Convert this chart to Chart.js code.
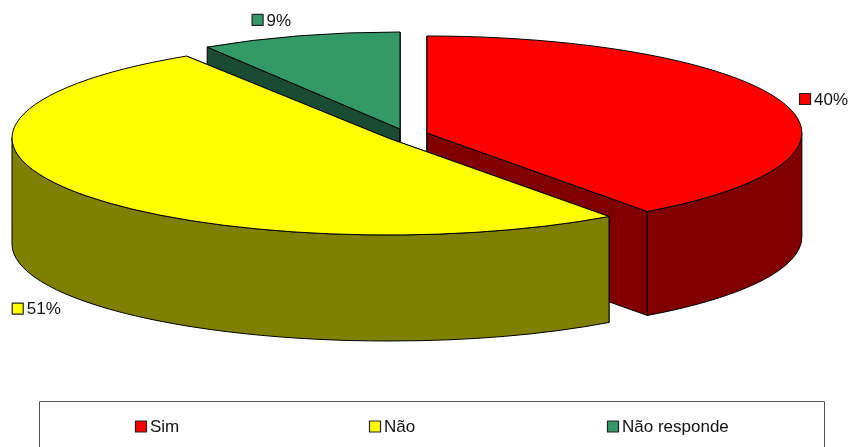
<!DOCTYPE html>
<html>
<head>
<meta charset="utf-8">
<script src="https://cdn.jsdelivr.net/npm/chart.js@4"></script>
<style>
  html, body { margin: 0; padding: 0; background: #fff; overflow: hidden; }
  canvas { display: block; }
</style>
</head>
<body>
<canvas id="chart" width="852" height="447"></canvas>
<script>
const categories = ['Sim', 'Não', 'Não responde'];
const percentages = [40, 51, 9];
const topColors = ['#ff0000', '#ffff00', '#339966'];
const sideColors = ['#800000', '#808000', '#1a4c33'];

// look of the fake 3D pie
const flatten = 0.258;
const depths = [104, 106, 104];
const explodeX = [39, 0, 12];
const explodeY = [-5, 0, -9];
const widthScale = [0.997, 1, 0.957];
const paintOrder = [2, 0, 1]; // back to front

const labelFont = '17px "Liberation Sans", Arial, sans-serif';
const labelNudge = [[15.5, -4], [-65.3, 116], [-48, -16]];
const legendKeyX = [135, 369, 607];

function geometry(arc, i) {
  const rx = arc.outerRadius * widthScale[i];
  return {
    cx: arc.x + explodeX[i],
    cy: arc.y + explodeY[i],
    rx: rx,
    ry: arc.outerRadius * flatten,
    a0: arc.startAngle,
    a1: arc.endAngle
  };
}

function drawKey(ctx, x, midY, color) {
  ctx.fillStyle = color;
  ctx.fillRect(x + 0.5, midY - 5.5, 11, 11);
  ctx.strokeStyle = '#222';
  ctx.lineWidth = 1.2;
  ctx.strokeRect(x + 0.5, midY - 5.5, 11, 11);
}

function drawSlice(ctx, arc, i) {
  const g = geometry(arc, i);
  const depth = depths[i];
  ctx.strokeStyle = '#000';
  ctx.lineWidth = 1;
  ctx.lineJoin = 'round';

  // the two cut faces
  ctx.fillStyle = sideColors[i];
  [g.a0, g.a1].forEach(function (a) {
    const px = g.cx + g.rx * Math.cos(a);
    const py = g.cy + g.ry * Math.sin(a);
    ctx.beginPath();
    ctx.moveTo(g.cx, g.cy);
    ctx.lineTo(px, py);
    ctx.lineTo(px, py + depth);
    ctx.lineTo(g.cx, g.cy + depth);
    ctx.closePath();
    ctx.fill();
    ctx.stroke();
  });

  // outer wall, only the part facing the viewer
  const from = Math.max(g.a0, 0);
  const to = Math.min(g.a1, Math.PI);
  if (to > from) {
    ctx.beginPath();
    ctx.ellipse(g.cx, g.cy, g.rx, g.ry, 0, from, to);
    ctx.ellipse(g.cx, g.cy + depth, g.rx, g.ry, 0, to, from, true);
    ctx.closePath();
    ctx.fill();
    ctx.stroke();
  }

  // top surface is the library's own arc, squashed
  ctx.save();
  ctx.translate(g.cx, g.cy);
  ctx.scale(widthScale[i], flatten);
  ctx.translate(-arc.x, -arc.y);
  arc.draw(ctx);
  ctx.restore();

  ctx.beginPath();
  ctx.moveTo(g.cx, g.cy);
  ctx.ellipse(g.cx, g.cy, g.rx, g.ry, 0, g.a0, g.a1);
  ctx.closePath();
  ctx.stroke();
}

const pie3d = {
  id: 'pie3d',
  beforeDatasetDraw(chart, args) {
    const ctx = chart.ctx;
    const arcs = args.meta.data;
    paintOrder.forEach(function (i) {
      drawSlice(ctx, arcs[i], i);
    });
    return false;
  },
  afterDraw(chart) {
    const ctx = chart.ctx;
    const arcs = chart.getDatasetMeta(0).data;
    ctx.save();
    ctx.font = labelFont;
    ctx.textBaseline = 'middle';

    // percent labels next to the slices
    arcs.forEach(function (arc, i) {
      const g = geometry(arc, i);
      const mid = (g.a0 + g.a1) / 2;
      const x = g.cx + g.rx * Math.cos(mid) + labelNudge[i][0];
      const y = g.cy + g.ry * Math.sin(mid) + labelNudge[i][1];
      drawKey(ctx, x, y, topColors[i]);
      ctx.fillStyle = '#111';
      ctx.fillText(percentages[i] + '%', x + 15, y + 1);
    });

    // legend frame, runs off the bottom edge like the original
    ctx.strokeStyle = '#555';
    ctx.lineWidth = 1;
    ctx.strokeRect(39.5, 401.5, 785, 60);
    categories.forEach(function (name, i) {
      drawKey(ctx, legendKeyX[i], 426.5, topColors[i]);
      ctx.fillStyle = '#111';
      ctx.fillText(name, legendKeyX[i] + 15, 427.5);
    });
    ctx.restore();
  }
};

new Chart(document.getElementById('chart'), {
  type: 'pie',
  data: {
    labels: categories,
    datasets: [{
      data: percentages,
      backgroundColor: topColors,
      borderWidth: 0
    }]
  },
  options: {
    responsive: false,
    animation: false,
    events: [],
    radius: 376,
    layout: { padding: { left: 0, right: 76, top: 0, bottom: 171 } },
    plugins: { legend: { display: false }, tooltip: { enabled: false } }
  },
  plugins: [pie3d]
});
</script>
</body>
</html>
